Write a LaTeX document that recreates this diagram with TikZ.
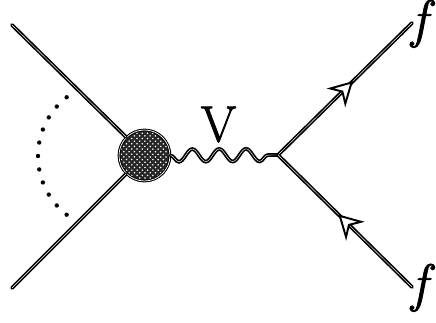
\documentclass[tikz,border=0pt]{standalone}
\usepackage{xcolor}
\usepackage{fontspec}
\newfontfamily\heavyfont[FakeBold=1.6]{Latin Modern Roman}
\usetikzlibrary{positioning, arrows.meta, patterns, decorations.pathmorphing, decorations.markings}
\tikzset{
  legline/.style={line width=0.95pt, double=white, double distance=0.25pt, line cap=round},
  blobnode/.style={circle, draw, line width=0.6pt, double=white, double distance=0.4pt, minimum size=29pt, inner sep=0pt,
    preaction={fill=black!85}, pattern=crosshatch dots, pattern color=white},
  wavyline/.style={legline, decorate, decoration={snake, mirror, segment length=15.3pt, amplitude=3.6pt, pre length=0pt, post length=0pt}},
  flowtip/.style={decoration={markings, mark=at position #1 with {\arrow[line width=1.1pt]{Stealth[length=13.6pt, width=15pt, inset=4.5pt, fill=white]}}}, postaction={decorate}},
  dotnode/.style={circle, fill, inner sep=0pt, minimum size=2.5pt},
  biglabel/.style={font=\fontsize{29}{29}\selectfont\heavyfont, inner sep=0pt},
  flabel/.style={font=\fontsize{30}{30}\selectfont\heavyfont\itshape, inner sep=0pt, anchor=base west},
}

\begin{document}
\begin{tikzpicture}[x=0.02cm, y=-0.02cm]
        \useasboundingbox (0,0) rectangle (436,323);
        \node[blobnode] (blob) at (144.5,155.5) {};
        \coordinate (inA) at (12,25);
        \coordinate (inB) at (12,288);
        \coordinate (vtx) at (278,155);
        \coordinate (outA) at (412,23);
        \coordinate (outB) at (412,287);
        \draw[legline] (inA) -- (blob.135);
        \draw[legline] (inB) -- (blob.225);
        \draw[wavyline] (blob.east) -- (vtx);
        \draw[legline] (vtx) -- (outA);
        \draw[legline] (outB) -- (vtx);
        \path[flowtip=0.56] (vtx) -- (outA);
        \path[flowtip=0.55] (outB) -- (vtx);
        \foreach \ang [count=\i] in {-52,-41.6,...,52}
          \node[dotnode] (dot\i) at ([shift={(180+\ang:74.5)}]112.5,156) {};
        \node[biglabel] (vlab) at (218.5,124.5) {V};
        \node[flabel] (fA) at (411,37) {f};
        \node[flabel] (fB) at (411,301) {f};
      \end{tikzpicture}
\end{document}
